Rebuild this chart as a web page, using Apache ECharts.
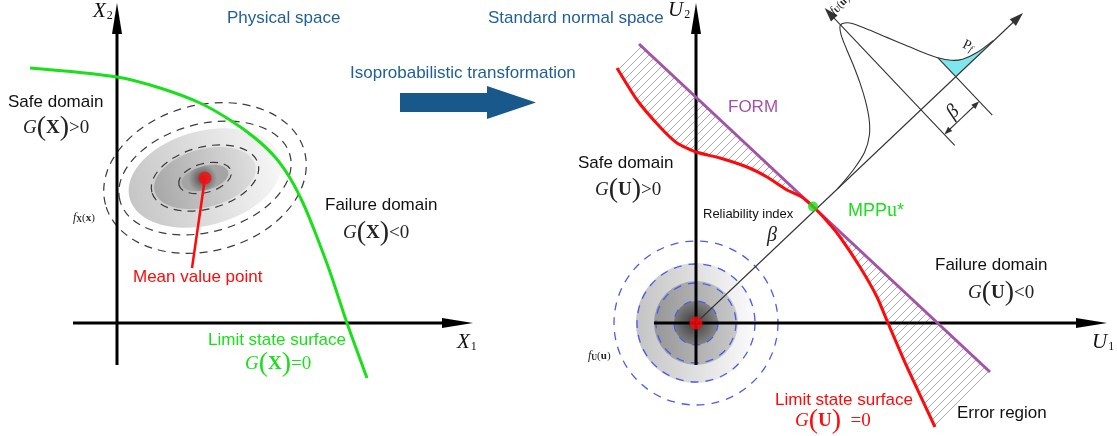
<!DOCTYPE html>
<html>
<head>
<meta charset="utf-8">
<script src="https://cdn.jsdelivr.net/npm/echarts@6/dist/echarts.min.js"></script>
<style>
  html, body { margin: 0; padding: 0; background: #fff; }
  #chart { width: 1117px; height: 436px; }
</style>
</head>
<body>
<div id="chart"></div>
<script>
// ---------- Physical space (X1, X2); 1 unit = 10 px ----------
const physAxes = [[-4.4, 0, 35.6, 0], [0, -4.2, 0, 32.0]];           // [x0, y0, x1, y1]
const limitStateX = [[-8.7, 25.5], [0, 24.6], [4.3, 23.5], [8.3, 22.0], [11.3, 20.3], [13.8, 18.5],
  [15.8, 16.6], [17.3, 14.5], [18.6, 12.0], [19.8, 9.1], [21.3, 5.1], [23.0, 0], [25.0, -5.5]];
const meanPoint = [8.8, 14.5];
const meanLeader = [[8.8, 14.5], [7.5, 5.5]];
const densityFillX = [[7.8, 4.7], [5.2, 2.9], [2.4, 1.2]];             // semi-axes of shaded levels
const densityContourX = [[2.7, 1.45], [5.5, 3.1], [8.8, 5.4], [10.3, 7.3]];
const ellipseTilt = 15;                                                 // degrees

// ---------- Standard normal space (U1, U2) ----------
const stdAxes = [[-4.2, 0, 41.1, 0], [0, -4.2, 0, 32.0]];
const formLine = [[-5.7, 27.9], [29.4, -4.9]];
const limitStateU = [[-7.9, 25.5], [-5.9, 22.3], [-3.6, 19.6], [-1.9, 18.0], [0, 17.1],
  [2.4, 16.5], [5.1, 15.6], [7.1, 14.6], [9.1, 13.3], [10.5, 12.65], [11.7, 11.65],
  [13.0, 10.3], [14.4, 8.6], [16.4, 5.6], [18.1, 2.6], [19.2, 0], [21.1, -4.4], [23.9, -10.4]];
const mpp = [11.7, 11.65];
const origin = [0, 0];
const densityFillU = [6.0, 4.2, 2.2];                                   // radii of shaded levels
const densityContourU = [2.2, 4.0, 5.9, 8.2];
const betaRay = [[0, 0], [32.7, 31.0]];

// Density profile along the beta ray: [t along ray, h across ray]
const pdfCurve = [[19.5, 0], [22.0, 0.3], [24.0, 0.8], [25.5, 1.7], [26.6, 2.9], [27.6, 4.5],
  [28.4, 6.1], [29.2, 8.0], [29.8, 9.6], [30.4, 11.0], [31.0, 11.7], [31.8, 11.2], [32.7, 9.4],
  [33.5, 7.6], [34.3, 5.8], [35.0, 4.2], [35.8, 2.6], [36.6, 1.5], [37.5, 0.8], [39.0, 0.3], [41.0, 0.05]];
const pdfAxis = [[31.0, -4.9], [31.0, 14.0]];
const failBound = [[35.8, 2.6], [35.8, -5.3]];
const betaDim = [[31.0, -3.4], [35.8, -3.4]];

// ---------- helpers ----------
const SANS = '"Liberation Sans", Arial, sans-serif';
const SERIF = '"Liberation Serif", "Times New Roman", serif';
const BLUE = '#1f5f99', GREEN = '#1adf1a', RED = '#ff0a0a', PURPLE = '#a452a8';

const rayDir = (() => { const [x, y] = betaRay[1]; const L = Math.hypot(x, y); return [x / L, y / L]; })();
const rayNorm = [-rayDir[1], rayDir[0]];
const toUV = ([t, h]) => [t * rayDir[0] + h * rayNorm[0], t * rayDir[1] + h * rayNorm[1]];

function arrowEls(p0, p1, head, half, color, width) {
  const dx = p1[0] - p0[0], dy = p1[1] - p0[1], L = Math.hypot(dx, dy), ux = dx / L, uy = dy / L;
  const bx = p1[0] - ux * head, by = p1[1] - uy * head;
  return [
    { type: 'line', shape: { x1: p0[0], y1: p0[1], x2: bx + ux * 2, y2: by + uy * 2 }, style: { stroke: color, lineWidth: width } },
    { type: 'polygon', shape: { points: [[p1[0], p1[1]], [bx - uy * half, by + ux * half], [bx + uy * half, by - ux * half]] }, style: { fill: color } }
  ];
}

function hatchPattern() {
  const s = 8, c = document.createElement('canvas');
  c.width = s; c.height = s;
  const g = c.getContext('2d');
  g.strokeStyle = '#aaaaaa'; g.lineWidth = 1;
  g.beginPath();
  g.moveTo(0, s); g.lineTo(s, 0);
  g.moveTo(-1, 1); g.lineTo(1, -1);
  g.moveTo(s - 1, s + 1); g.lineTo(s + 1, s - 1);
  g.stroke();
  return { image: c, repeat: 'repeat' };
}
const hatch = hatchPattern();

const upperHatch = [formLine[0], mpp].concat(limitStateU.filter(p => p[0] < mpp[0]).reverse());
const lowerHatch = [mpp, formLine[1]].concat(limitStateU.filter(p => p[0] > mpp[0]).reverse());
const hatchPolys = [upperHatch, lowerHatch];

const failT = failBound[0][0];
const tailRegion = [[failT, 0]].concat(pdfCurve.filter(p => p[0] >= failT), [[pdfCurve[pdfCurve.length - 1][0], 0]]);

const ellipseFills = [
  new echarts.graphic.LinearGradient(0, 0, 1, 0, [{ offset: 0, color: '#c6c6c6' }, { offset: 1, color: '#f7f7f7' }]),
  new echarts.graphic.LinearGradient(0, 0, 1, 0, [{ offset: 0, color: '#a8a8a8' }, { offset: 1, color: '#dedede' }]),
  new echarts.graphic.RadialGradient(0.45, 0.5, 0.6, [{ offset: 0, color: '#484848' }, { offset: 1, color: '#a4a4a4' }])
];
const diskFills = [
  new echarts.graphic.LinearGradient(0, 0, 1, 0, [{ offset: 0, color: '#c4c4c4' }, { offset: 1, color: '#fbfbfb' }]),
  new echarts.graphic.LinearGradient(0, 0, 1, 0, [{ offset: 0, color: '#979797' }, { offset: 1, color: '#c9c9c9' }]),
  new echarts.graphic.RadialGradient(0.45, 0.5, 0.6, [{ offset: 0, color: '#3c3c3c' }, { offset: 1, color: '#8e8e8e' }])
];

// ---------- texts ----------
function txt(x, y, text, size, color, extra) {
  return Object.assign({ type: 'text', x, y, z: 100,
    style: { text, fontFamily: SANS, fontSize: size, fill: color, align: 'left', verticalAlign: 'middle' } }, extra || {});
}
function gText(x, y, arg, rel, color) {
  const base = { fontFamily: SERIF, fill: color };
  return { type: 'text', x, y, z: 100, style: {
    text: '{g|G}{p|(}{b|' + arg + '}{p|)}{n|' + rel + '}', fill: color, align: 'left', verticalAlign: 'middle',
    rich: {
      g: Object.assign({ fontSize: 19, fontStyle: 'italic' }, base),
      p: Object.assign({ fontSize: 28 }, base),
      b: Object.assign({ fontSize: 19, fontWeight: 'bold' }, base),
      n: Object.assign({ fontSize: 19 }, base)
    } } };
}
function axisName(x, y, letter, sub) {
  return { type: 'text', x, y, z: 100, style: {
    text: '{a|' + letter + '}{s|' + sub + '}', align: 'left', verticalAlign: 'middle',
    rich: {
      a: { fontFamily: SERIF, fontStyle: 'italic', fontSize: 21, fill: '#111' },
      s: { fontFamily: SERIF, fontSize: 12, fill: '#111', verticalAlign: 'bottom', padding: [0, 0, 0, 1] }
    } } };
}
function densityName(x, y, sub, arg, extra) {
  return Object.assign({ type: 'text', x, y, z: 100, style: {
    text: '{f|f}{s|' + sub + '}{a|(}{b|' + arg + '}{a|)}', align: 'left', verticalAlign: 'middle',
    rich: {
      f: { fontFamily: SERIF, fontStyle: 'italic', fontSize: 12, fill: '#222' },
      s: { fontFamily: SERIF, fontWeight: 'bold', fontSize: 8, fill: '#222', verticalAlign: 'bottom' },
      a: { fontFamily: SERIF, fontSize: 11, fill: '#222' },
      b: { fontFamily: SERIF, fontWeight: 'bold', fontSize: 11, fill: '#222' }
    } } }, extra || {});
}

const texts = [
  axisName(93, 11, 'X', '2'),
  axisName(457, 342, 'X', '1'),
  axisName(668, 10, 'U', '2'),
  axisName(1092, 342, 'U', '1'),
  txt(227, 18, 'Physical space', 17, BLUE),
  txt(350, 73, 'Isoprobabilistic transformation', 17, BLUE),
  txt(488, 18, 'Standard normal space', 17, BLUE),
  txt(8, 102, 'Safe domain', 17, '#111'),
  gText(23, 128, 'X', '>0', '#222'),
  densityName(73, 218, 'X', 'x'),
  txt(325, 205, 'Failure domain', 17, '#111'),
  gText(343, 233, 'X', '<0', '#222'),
  txt(133, 277, 'Mean value point', 17, RED),
  txt(208, 340, 'Limit state surface', 17, GREEN),
  gText(245, 364, 'X', '=0', GREEN),
  txt(728, 107, 'FORM', 17, PURPLE),
  txt(578, 163, 'Safe domain', 17, '#111'),
  gText(595, 190, 'U', '>0', '#222'),
  txt(703, 214, 'Reliability index', 13, '#111'),
  { type: 'text', x: 767, y: 236, z: 100, style: { text: 'β', fontFamily: SERIF, fontStyle: 'italic', fontSize: 20, fill: '#222', align: 'left', verticalAlign: 'middle' } },
  { type: 'text', x: 848, y: 211, z: 100, style: { text: '{a|MPP}{b|u}{a|*}', align: 'left', verticalAlign: 'middle',
    rich: { a: { fontFamily: SANS, fontSize: 18, fill: GREEN }, b: { fontFamily: SERIF, fontSize: 20, fill: GREEN } } } },
  txt(935, 265, 'Failure domain', 17, '#111'),
  gText(968, 293, 'U', '<0', '#222'),
  densityName(588, 356, 'U', 'u'),
  txt(775, 400, 'Limit state surface', 17, RED),
  gText(795, 421, 'U', '\u2002=0', RED),
  txt(957, 413, 'Error region', 17, '#111'),
  { type: 'text', x: 968, y: 46, z: 100, rotation: -0.45, style: { text: '{p|P}{s|f}', align: 'center', verticalAlign: 'middle',
    rich: { p: { fontFamily: SERIF, fontSize: 14, fill: '#222' }, s: { fontFamily: SERIF, fontStyle: 'italic', fontSize: 10, fill: '#222', verticalAlign: 'bottom' } } } },
  { type: 'text', x: 953, y: 112, z: 100, rotation: Math.atan2(rayDir[1], rayDir[0]), style: { text: 'β', fontFamily: SERIF, fontStyle: 'italic', fontSize: 20, fill: '#222', align: 'center', verticalAlign: 'middle' } },
  densityName(836, 17, 'U', 'u', { rotation: Math.atan2(rayDir[1], rayDir[0]) })
];
texts[texts.length - 1].style.verticalAlign = 'bottom';

// transformation arrow between the two spaces
const bigArrow = { type: 'polygon', z: 90, shape: { points: [[400, 93], [487, 93], [487, 86], [536, 102.5], [487, 119], [487, 112], [400, 112]] },
  style: { fill: '#18588b' } };

// ---------- series ----------
const L = { xAxisIndex: 0, yAxisIndex: 0 };
const R = { xAxisIndex: 1, yAxisIndex: 1 };

const series = [
  // left: joint density of X
  Object.assign({ type: 'custom', name: 'densityFillX', z: 1, data: densityFillX.map(([a, b]) => [meanPoint[0], meanPoint[1], a, b]),
    renderItem: (params, api) => {
      const c = api.coord([api.value(0), api.value(1)]);
      const s = api.size([api.value(2), api.value(3)]);
      return { type: 'ellipse', x: c[0], y: c[1], rotation: ellipseTilt * Math.PI / 180,
        shape: { cx: 0, cy: 0, rx: s[0], ry: s[1] }, style: { fill: ellipseFills[params.dataIndex] } };
    } }, L),
  Object.assign({ type: 'custom', name: 'contourX', z: 2, data: densityContourX.map(([a, b]) => [meanPoint[0], meanPoint[1], a, b]),
    renderItem: (params, api) => {
      const c = api.coord([api.value(0), api.value(1)]);
      const s = api.size([api.value(2), api.value(3)]);
      return { type: 'ellipse', x: c[0], y: c[1], rotation: ellipseTilt * Math.PI / 180,
        shape: { cx: 0, cy: 0, rx: s[0], ry: s[1] }, style: { fill: 'none', stroke: '#3a3a3a', lineWidth: 1.2, lineDash: [8, 6] } };
    } }, L),
  Object.assign({ type: 'custom', name: 'axesX', z: 3, data: physAxes,
    renderItem: (params, api) => ({ type: 'group', children:
      arrowEls(api.coord([api.value(0), api.value(1)]), api.coord([api.value(2), api.value(3)]), 31, 5, '#000', 3) }) }, L),
  Object.assign({ type: 'line', name: 'limitStateX', z: 4, data: limitStateX, smooth: 0.3, showSymbol: false,
    lineStyle: { color: GREEN, width: 3 } }, L),
  Object.assign({ type: 'line', name: 'meanLeader', z: 5, data: meanLeader, showSymbol: false,
    lineStyle: { color: RED, width: 2.5 } }, L),
  Object.assign({ type: 'scatter', name: 'meanPoint', z: 6, data: [meanPoint], symbolSize: 13,
    itemStyle: { color: RED } }, L),

  // right: standard normal density of U
  Object.assign({ type: 'custom', name: 'densityFillU', z: 1, data: densityFillU.map(r => [origin[0], origin[1], r]),
    renderItem: (params, api) => {
      const c = api.coord([api.value(0), api.value(1)]);
      const r = api.size([api.value(2), 0])[0];
      return { type: 'circle', shape: { cx: c[0], cy: c[1], r }, style: { fill: diskFills[params.dataIndex] } };
    } }, R),
  Object.assign({ type: 'custom', name: 'contourU', z: 2, data: densityContourU.map(r => [origin[0], origin[1], r]),
    renderItem: (params, api) => {
      const c = api.coord([api.value(0), api.value(1)]);
      const r = api.size([api.value(2), 0])[0];
      return { type: 'circle', shape: { cx: c[0], cy: c[1], r }, style: { fill: 'none', stroke: '#4b5cf0', lineWidth: 1.3, lineDash: [8, 7] } };
    } }, R),
  Object.assign({ type: 'custom', name: 'errorRegion', z: 2, data: hatchPolys.map(() => [0, 0]),
    renderItem: (params, api) => ({ type: 'polygon', shape: { points: hatchPolys[params.dataIndex].map(p => api.coord(p)) },
      style: { fill: hatch } }) }, R),
  Object.assign({ type: 'custom', name: 'axesU', z: 3, data: stdAxes,
    renderItem: (params, api) => ({ type: 'group', children:
      arrowEls(api.coord([api.value(0), api.value(1)]), api.coord([api.value(2), api.value(3)]), 31, 5, '#000', 3) }) }, R),
  Object.assign({ type: 'custom', name: 'betaFrame', z: 4, data: [[0, 0], [0, 0], [0, 0], [0, 0], [0, 0], [0, 0]],
    renderItem: (params, api) => {
      const P = p => api.coord(toUV(p));
      const ink = '#333', w = 1.1;
      switch (params.dataIndex) {
        case 0: return { type: 'polygon', shape: { points: tailRegion.map(P) }, style: { fill: '#80e6ee' } };
        case 1: return { type: 'group', children: arrowEls(api.coord(betaRay[0]), api.coord(betaRay[1]), 14, 4.5, ink, w) };
        case 2: return { type: 'polyline', shape: { points: pdfCurve.map(P), smooth: 0.3 }, style: { fill: 'none', stroke: ink, lineWidth: w } };
        case 3: return { type: 'group', children: arrowEls(P(pdfAxis[0]), P(pdfAxis[1]), 14, 4.5, ink, w) };
        case 4: return { type: 'line', shape: { x1: P(failBound[0])[0], y1: P(failBound[0])[1], x2: P(failBound[1])[0], y2: P(failBound[1])[1] },
          style: { stroke: ink, lineWidth: w } };
        default: {
          const a = P(betaDim[0]), b = P(betaDim[1]);
          const m = [(a[0] + b[0]) / 2, (a[1] + b[1]) / 2];
          return { type: 'group', children: arrowEls(m, a, 8, 3, ink, w).concat(arrowEls(m, b, 8, 3, ink, w)) };
        }
      }
    } }, R),
  Object.assign({ type: 'line', name: 'FORM', z: 5, data: formLine, showSymbol: false,
    lineStyle: { color: PURPLE, width: 3 } }, R),
  Object.assign({ type: 'line', name: 'limitStateU', z: 6, data: limitStateU, smooth: 0.2, showSymbol: false,
    lineStyle: { color: RED, width: 3 } }, R),
  Object.assign({ type: 'scatter', name: 'origin', z: 7, data: [origin], symbolSize: 13,
    itemStyle: { color: RED } }, R),
  Object.assign({ type: 'scatter', name: 'MPP', z: 7, data: [mpp], symbolSize: 10,
    itemStyle: { color: GREEN } }, R)
];

const chart = echarts.init(document.getElementById('chart'));
chart.setOption({
  animation: false,
  backgroundColor: '#ffffff',
  grid: [{ left: 0, top: 0, width: 558, height: 436 }, { left: 558, top: 0, width: 559, height: 436 }],
  xAxis: [
    { type: 'value', gridIndex: 0, min: -11.7, max: 44.1, show: false },
    { type: 'value', gridIndex: 1, min: -13.8, max: 42.1, show: false }
  ],
  yAxis: [
    { type: 'value', gridIndex: 0, min: -11.3, max: 32.3, show: false },
    { type: 'value', gridIndex: 1, min: -11.3, max: 32.3, show: false }
  ],
  series,
  graphic: texts.concat([bigArrow])
});
</script>
</body>
</html>
